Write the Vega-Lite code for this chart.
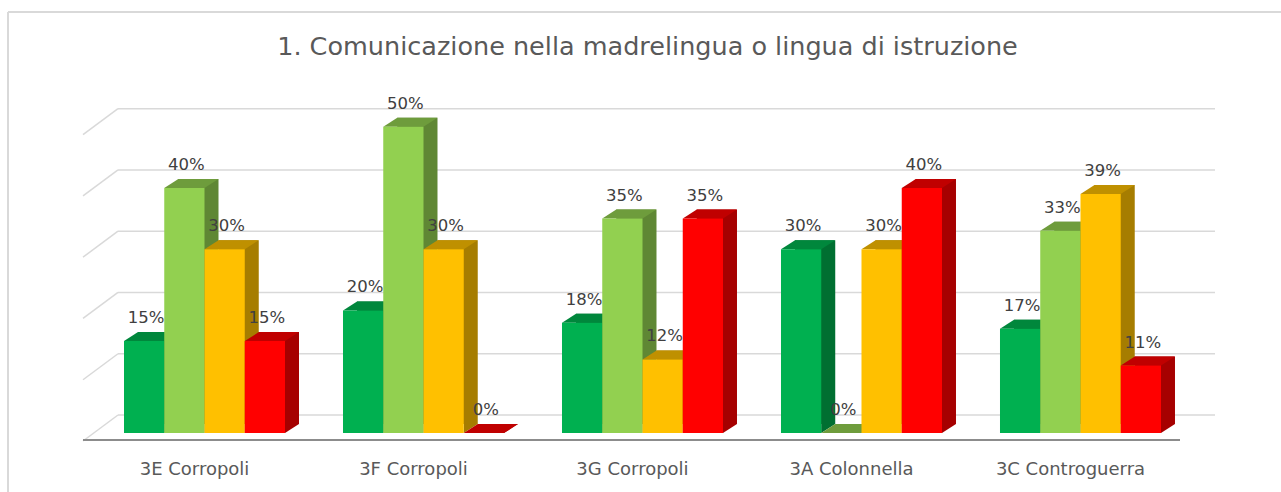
{
  "$schema": "https://vega.github.io/schema/vega-lite/v6.json",
  "width": 1097,
  "height": 337,
  "autosize": "none",
  "padding": {"left": 118, "top": 96, "right": 66, "bottom": 59},
  "background": "white",
  "config": {"view": {"stroke": null}, "font": "DejaVu Sans"},
  "title": {
    "text": "1. Comunicazione nella madrelingua o lingua di istruzione",
    "font": "DejaVu Sans",
    "fontSize": 25.5,
    "fontWeight": "normal",
    "color": "#595959",
    "anchor": "middle",
    "frame": "group",
    "baseline": "alphabetic",
    "offset": -69,
    "dx": -19
  },
  "datasets": {
    "bars": [
      {"group": "3E Corropoli", "series": "Avanzato", "value": 0.15},
      {"group": "3E Corropoli", "series": "Intermedio", "value": 0.40},
      {"group": "3E Corropoli", "series": "Base", "value": 0.30},
      {"group": "3E Corropoli", "series": "Iniziale", "value": 0.15},
      {"group": "3F Corropoli", "series": "Avanzato", "value": 0.20},
      {"group": "3F Corropoli", "series": "Intermedio", "value": 0.50},
      {"group": "3F Corropoli", "series": "Base", "value": 0.30},
      {"group": "3F Corropoli", "series": "Iniziale", "value": 0.0},
      {"group": "3G Corropoli", "series": "Avanzato", "value": 0.18},
      {"group": "3G Corropoli", "series": "Intermedio", "value": 0.35},
      {"group": "3G Corropoli", "series": "Base", "value": 0.12},
      {"group": "3G Corropoli", "series": "Iniziale", "value": 0.35},
      {"group": "3A Colonnella", "series": "Avanzato", "value": 0.30},
      {"group": "3A Colonnella", "series": "Intermedio", "value": 0.0},
      {"group": "3A Colonnella", "series": "Base", "value": 0.30},
      {"group": "3A Colonnella", "series": "Iniziale", "value": 0.40},
      {"group": "3C Controguerra", "series": "Avanzato", "value": 0.17},
      {"group": "3C Controguerra", "series": "Intermedio", "value": 0.33},
      {"group": "3C Controguerra", "series": "Base", "value": 0.39},
      {"group": "3C Controguerra", "series": "Iniziale", "value": 0.11}
    ],
    "grid": [{"v": 0}, {"v": 0.1}, {"v": 0.2}, {"v": 0.3}, {"v": 0.4}, {"v": 0.5}]
  },
  "resolve": {"scale": {"xOffset": "independent", "color": "independent"}},
  "layer": [
    {
      "data": {"name": "grid"},
      "mark": {"type": "rule", "color": "#d9d9d9", "strokeWidth": 1.5, "yOffset": -84, "xOffset": -116, "x2Offset": 130},
      "encoding": {
        "x": {"datum": "3E Corropoli", "type": "nominal", "bandPosition": 0, "scale": {"domain": ["3E Corropoli", "3F Corropoli", "3G Corropoli", "3A Colonnella", "3C Controguerra"], "paddingInner": 0.2648, "paddingOuter": 0.137, "align": 0.1}, "axis": {"title": null, "domain": false, "ticks": false, "tickSize": 0, "grid": false, "labelFont": "DejaVu Sans", "labelFontSize": 18, "labelColor": "#595959", "labelPadding": 41, "labelBaseline": "alphabetic", "labelOffset": -10, "labelAngle": 0}},
        "x2": {"datum": "3C Controguerra", "bandPosition": 1},
        "y": {"datum": 0.55, "type": "quantitative", "scale": {"domain": [0, 0.55], "nice": false}, "axis": null}
      }
    },
    {
      "data": {"name": "grid"},
      "mark": {"type": "rule", "color": "#d9d9d9", "strokeWidth": 1.5, "xOffset": -116, "yOffset": -84, "y2Offset": 70},
      "encoding": {
        "x": {"datum": "3E Corropoli", "type": "nominal", "bandPosition": 0, "scale": {"domain": ["3E Corropoli", "3F Corropoli", "3G Corropoli", "3A Colonnella", "3C Controguerra"], "paddingInner": 0.2648, "paddingOuter": 0.137, "align": 0.1}, "axis": {"title": null, "domain": false, "ticks": false, "tickSize": 0, "grid": false, "labelFont": "DejaVu Sans", "labelFontSize": 18, "labelColor": "#595959", "labelPadding": 41, "labelBaseline": "alphabetic", "labelOffset": -10, "labelAngle": 0}},
        "y": {"datum": 0.55, "type": "quantitative", "scale": {"domain": [0, 0.55], "nice": false}, "axis": null},
        "y2": {"datum": 0}
      }
    },
    {
      "data": {"name": "grid"},
      "mark": {"type": "rule", "color": "#d9d9d9", "strokeWidth": 1.5, "yOffset": -18},
      "encoding": {
        "y": {"field": "v", "type": "quantitative", "scale": {"domain": [0, 0.55], "nice": false}, "axis": null}
      }
    },
    {
      "data": {"name": "grid"},
      "mark": {"type": "rule", "color": "#d9d9d9", "strokeWidth": 1.5, "xOffset": -6, "x2Offset": -41, "yOffset": -18, "y2Offset": 8},
      "encoding": {
        "x": {"datum": "3E Corropoli", "type": "nominal", "bandPosition": 0, "scale": {"domain": ["3E Corropoli", "3F Corropoli", "3G Corropoli", "3A Colonnella", "3C Controguerra"], "paddingInner": 0.2648, "paddingOuter": 0.137, "align": 0.1}, "axis": {"title": null, "domain": false, "ticks": false, "tickSize": 0, "grid": false, "labelFont": "DejaVu Sans", "labelFontSize": 18, "labelColor": "#595959", "labelPadding": 41, "labelBaseline": "alphabetic", "labelOffset": -10, "labelAngle": 0}},
        "x2": {"datum": "3E Corropoli", "bandPosition": 0},
        "y": {"field": "v", "type": "quantitative", "scale": {"domain": [0, 0.55], "nice": false}, "axis": null},
        "y2": {"field": "v"}
      }
    },
    {
      "data": {"name": "grid"},
      "mark": {"type": "rule", "color": "#8c8c8c", "strokeWidth": 2, "xOffset": -41, "x2Offset": 19, "yOffset": 7},
      "encoding": {
        "x": {"datum": "3E Corropoli", "type": "nominal", "bandPosition": 0, "scale": {"domain": ["3E Corropoli", "3F Corropoli", "3G Corropoli", "3A Colonnella", "3C Controguerra"], "paddingInner": 0.2648, "paddingOuter": 0.137, "align": 0.1}, "axis": {"title": null, "domain": false, "ticks": false, "tickSize": 0, "grid": false, "labelFont": "DejaVu Sans", "labelFontSize": 18, "labelColor": "#595959", "labelPadding": 41, "labelBaseline": "alphabetic", "labelOffset": -10, "labelAngle": 0}},
        "x2": {"datum": "3C Controguerra", "bandPosition": 1},
        "y": {"datum": 0, "type": "quantitative", "scale": {"domain": [0, 0.55], "nice": false}, "axis": null}
      }
    },
    {
      "data": {"name": "bars"},
      "mark": {"type": "bar", "yOffset": -9, "y2Offset": -9},
      "encoding": {
        "x": {"field": "group", "type": "nominal", "scale": {"domain": ["3E Corropoli", "3F Corropoli", "3G Corropoli", "3A Colonnella", "3C Controguerra"], "paddingInner": 0.2648, "paddingOuter": 0.137, "align": 0.1}, "axis": {"title": null, "domain": false, "ticks": false, "tickSize": 0, "grid": false, "labelFont": "DejaVu Sans", "labelFontSize": 18, "labelColor": "#595959", "labelPadding": 41, "labelBaseline": "alphabetic", "labelOffset": -10, "labelAngle": 0}},
        "xOffset": {"field": "series", "type": "nominal", "scale": {"type": "band", "domain": ["Avanzato", "Intermedio", "Base", "Iniziale"], "range": [14, 175], "paddingInner": 0, "paddingOuter": 0}},
        "y": {"field": "value", "type": "quantitative", "scale": {"domain": [0, 0.55], "nice": false}, "axis": null},
        "y2": {"datum": 0},
        "color": {"field": "series", "type": "nominal", "scale": {"domain": ["Avanzato", "Intermedio", "Base", "Iniziale"], "range": ["#006f31", "#5f8734", "#a67d00", "#a60000"]}, "legend": null}
      }
    },
    {
      "data": {"name": "bars"},
      "mark": {"type": "point", "shape": "M20.1,0L20.1,-9L34.1,-9Z", "size": 4, "filled": true, "opacity": 1, "strokeWidth": 0},
      "encoding": {
        "x": {"field": "group", "type": "nominal", "scale": {"domain": ["3E Corropoli", "3F Corropoli", "3G Corropoli", "3A Colonnella", "3C Controguerra"], "paddingInner": 0.2648, "paddingOuter": 0.137, "align": 0.1}, "axis": {"title": null, "domain": false, "ticks": false, "tickSize": 0, "grid": false, "labelFont": "DejaVu Sans", "labelFontSize": 18, "labelColor": "#595959", "labelPadding": 41, "labelBaseline": "alphabetic", "labelOffset": -10, "labelAngle": 0}},
        "xOffset": {"field": "series", "type": "nominal", "scale": {"type": "band", "domain": ["Avanzato", "Intermedio", "Base", "Iniziale"], "paddingInner": 0, "paddingOuter": 0}},
        "y": {"datum": 0, "type": "quantitative", "scale": {"domain": [0, 0.55], "nice": false}, "axis": null},
        "color": {"field": "series", "type": "nominal", "scale": {"domain": ["Avanzato", "Intermedio", "Base", "Iniziale"], "range": ["#006f31", "#5f8734", "#a67d00", "#a60000"]}, "legend": null}
      }
    },
    {
      "data": {"name": "bars"},
      "mark": {"type": "point", "shape": "M-20.1,0L20.1,0L34.1,-9L-6.1,-9Z", "size": 4, "filled": true, "opacity": 1, "strokeWidth": 0},
      "encoding": {
        "x": {"field": "group", "type": "nominal", "scale": {"domain": ["3E Corropoli", "3F Corropoli", "3G Corropoli", "3A Colonnella", "3C Controguerra"], "paddingInner": 0.2648, "paddingOuter": 0.137, "align": 0.1}, "axis": {"title": null, "domain": false, "ticks": false, "tickSize": 0, "grid": false, "labelFont": "DejaVu Sans", "labelFontSize": 18, "labelColor": "#595959", "labelPadding": 41, "labelBaseline": "alphabetic", "labelOffset": -10, "labelAngle": 0}},
        "xOffset": {"field": "series", "type": "nominal", "scale": {"type": "band", "domain": ["Avanzato", "Intermedio", "Base", "Iniziale"], "paddingInner": 0, "paddingOuter": 0}},
        "y": {"field": "value", "type": "quantitative", "scale": {"domain": [0, 0.55], "nice": false}, "axis": null},
        "color": {"field": "series", "type": "nominal", "scale": {"domain": ["Avanzato", "Intermedio", "Base", "Iniziale"], "range": ["#00873c", "#6e9c3c", "#bf9000", "#c00000"]}, "legend": null}
      }
    },
    {
      "data": {"name": "bars"},
      "mark": {"type": "bar"},
      "encoding": {
        "x": {"field": "group", "type": "nominal", "scale": {"domain": ["3E Corropoli", "3F Corropoli", "3G Corropoli", "3A Colonnella", "3C Controguerra"], "paddingInner": 0.2648, "paddingOuter": 0.137, "align": 0.1}, "axis": {"title": null, "domain": false, "ticks": false, "tickSize": 0, "grid": false, "labelFont": "DejaVu Sans", "labelFontSize": 18, "labelColor": "#595959", "labelPadding": 41, "labelBaseline": "alphabetic", "labelOffset": -10, "labelAngle": 0}},
        "xOffset": {"field": "series", "type": "nominal", "scale": {"type": "band", "domain": ["Avanzato", "Intermedio", "Base", "Iniziale"], "paddingInner": 0, "paddingOuter": 0}},
        "y": {"field": "value", "type": "quantitative", "scale": {"domain": [0, 0.55], "nice": false}, "axis": null},
        "color": {"field": "series", "type": "nominal", "scale": {"domain": ["Avanzato", "Intermedio", "Base", "Iniziale"], "range": ["#00b050", "#92d050", "#ffc000", "#ff0000"]}, "legend": null}
      }
    },
    {
      "data": {"name": "bars"},
      "mark": {"type": "text", "font": "DejaVu Sans", "fontSize": 16.5, "color": "#404040", "baseline": "alphabetic", "align": "center", "dx": 2, "dy": -18},
      "encoding": {
        "x": {"field": "group", "type": "nominal", "scale": {"domain": ["3E Corropoli", "3F Corropoli", "3G Corropoli", "3A Colonnella", "3C Controguerra"], "paddingInner": 0.2648, "paddingOuter": 0.137, "align": 0.1}, "axis": {"title": null, "domain": false, "ticks": false, "tickSize": 0, "grid": false, "labelFont": "DejaVu Sans", "labelFontSize": 18, "labelColor": "#595959", "labelPadding": 41, "labelBaseline": "alphabetic", "labelOffset": -10, "labelAngle": 0}},
        "xOffset": {"field": "series", "type": "nominal", "scale": {"type": "band", "domain": ["Avanzato", "Intermedio", "Base", "Iniziale"], "paddingInner": 0, "paddingOuter": 0}},
        "y": {"field": "value", "type": "quantitative", "scale": {"domain": [0, 0.55], "nice": false}, "axis": null},
        "text": {"field": "value", "type": "quantitative", "format": ".0%"}
      }
    }
  ]
}
